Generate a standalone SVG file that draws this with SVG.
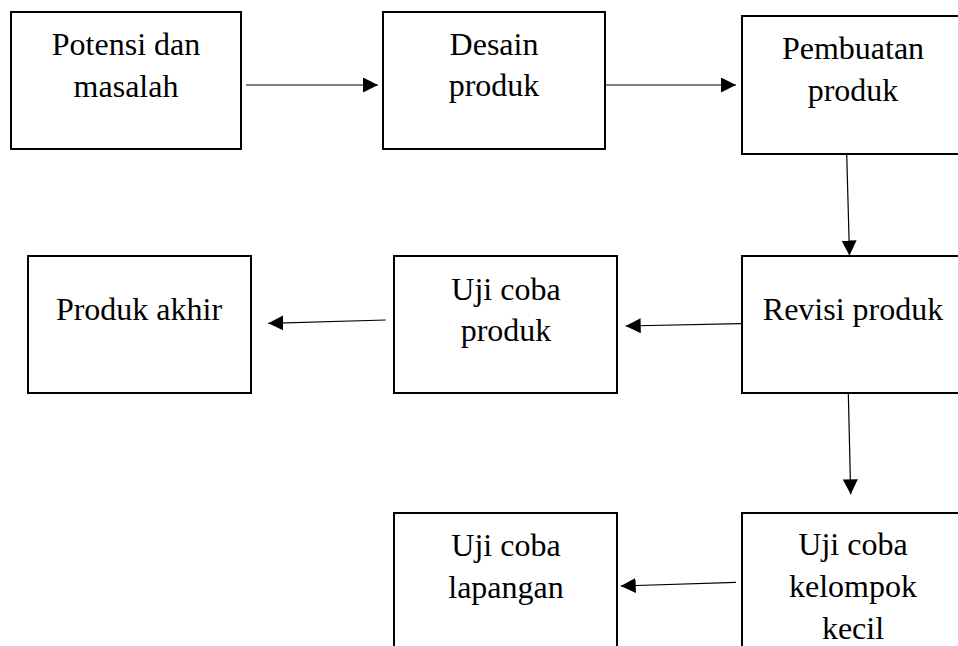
<svg xmlns="http://www.w3.org/2000/svg" width="958" height="646" viewBox="0 0 958 646">
<style>
.box{fill:#fff;stroke:#000;stroke-width:2}
.c{stroke:#000;stroke-width:1.2;fill:none;marker-end:url(#ah)}
</style>
<defs>
<marker id="ah" markerUnits="userSpaceOnUse" markerWidth="16" markerHeight="16" refX="15" refY="7.5" orient="auto">
<path d="M0,0 L15,7.5 L0,15 z" fill="#000"/>
</marker>
</defs>
<rect width="958" height="646" fill="#fff"/>
<g font-family="Liberation Serif" font-size="32" text-anchor="middle" fill="#000">
<g id="potensi">
<rect class="box" x="11" y="12" width="230" height="137"/>
<text x="126" y="55">Potensi dan</text>
<text x="126" y="97">masalah</text>
</g>
<g id="desain">
<rect class="box" x="383" y="12" width="222" height="137"/>
<text x="494" y="55">Desain</text>
<text x="494" y="96">produk</text>
</g>
<g id="pembuatan">
<rect class="box" x="742" y="16" width="222" height="138"/>
<text x="853" y="59">Pembuatan</text>
<text x="853" y="101">produk</text>
</g>
<g id="produk-akhir">
<rect class="box" x="28" y="256" width="223" height="137"/>
<text x="139" y="320">Produk akhir</text>
</g>
<g id="uji-produk">
<rect class="box" x="394" y="256" width="223" height="137"/>
<text x="506" y="300">Uji coba</text>
<text x="506" y="341">produk</text>
</g>
<g id="revisi">
<rect class="box" x="742" y="256" width="222" height="137"/>
<text x="853" y="320">Revisi produk</text>
</g>
<g id="uji-lapangan">
<rect class="box" x="394" y="513" width="223" height="140"/>
<text x="506" y="556">Uji coba</text>
<text x="506" y="598">lapangan</text>
</g>
<g id="uji-kelompok">
<rect class="box" x="742" y="513" width="222" height="140"/>
<text x="853" y="555">Uji coba</text>
<text x="853" y="597">kelompok</text>
<text x="853" y="639">kecil</text>
</g>
</g>
<g id="connectors">
<line class="c" x1="246" y1="85" x2="378" y2="85"/>
<line class="c" x1="605" y1="85" x2="736" y2="85"/>
<line class="c" x1="846.7" y1="154" x2="849.5" y2="255.5"/>
<line class="c" x1="741" y1="323.7" x2="625.7" y2="326"/>
<line class="c" x1="385.7" y1="320" x2="268.3" y2="323.3"/>
<line class="c" x1="848.3" y1="393" x2="850.7" y2="494.3"/>
<line class="c" x1="736" y1="582.3" x2="620.7" y2="586"/>
</g>
</svg>
